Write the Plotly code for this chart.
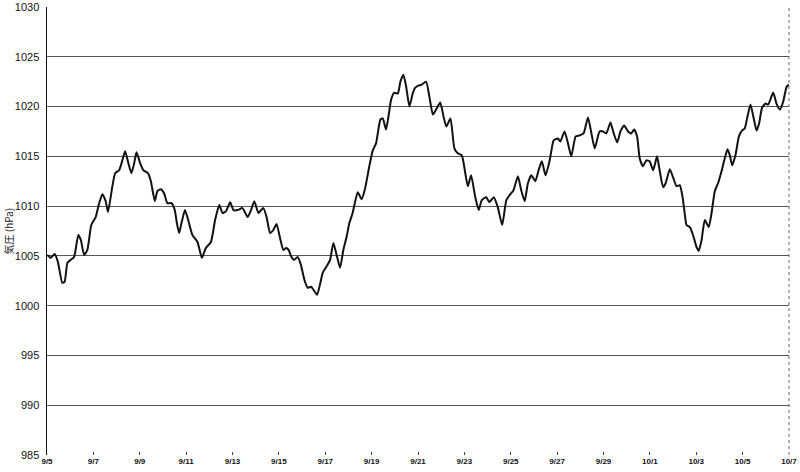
import plotly.graph_objects as go

# Days elapsed since 9/5 00:00
days = [0.01, 0.16, 0.33, 0.47, 0.66, 0.76, 0.88, 1.02, 1.17, 1.35, 1.46, 1.60, 1.74, 1.91, 2.10,
        2.25, 2.39, 2.53, 2.63, 2.82, 2.94, 3.11, 3.25, 3.37, 3.51, 3.64, 3.76, 3.86, 4.02, 4.16,
        4.36, 4.48, 4.65, 4.76, 4.91, 5.05, 5.19, 5.37, 5.51, 5.60, 5.70, 5.80, 5.95, 6.09, 6.27,
        6.49, 6.68, 6.85, 7.07, 7.25, 7.43, 7.57, 7.72, 7.90, 8.04, 8.22, 8.43, 8.65, 8.80, 8.94,
        9.12, 9.23, 9.33, 9.47, 9.62, 9.76, 9.90, 10.05, 10.19, 10.31, 10.42, 10.52, 10.66, 10.81,
        10.95, 11.10, 11.24, 11.39, 11.49, 11.65, 11.79, 11.89, 12.10, 12.21, 12.35, 12.49, 12.64,
        12.78, 12.92, 13.04, 13.18, 13.40, 13.57, 13.72, 13.90, 14.05, 14.19, 14.38, 14.48, 14.62,
        14.74, 14.84, 14.98, 15.13, 15.24, 15.37, 15.49, 15.63, 15.77, 15.88, 16.02, 16.16, 16.35,
        16.49, 16.64, 16.78, 16.96, 17.10, 17.22, 17.40, 17.57, 17.72, 17.89, 18.04, 18.15, 18.29,
        18.47, 18.62, 18.75, 18.94, 19.08, 19.27, 19.44, 19.63, 19.81, 19.95, 20.12, 20.31, 20.45,
        20.60, 20.74, 20.89, 21.06, 21.20, 21.34, 21.50, 21.68, 21.85, 22.03, 22.14, 22.32, 22.47,
        22.61, 22.80, 22.97, 23.14, 23.33, 23.48, 23.62, 23.83, 23.98, 24.12, 24.30, 24.44, 24.59,
        24.73, 24.89, 25.06, 25.20, 25.32, 25.45, 25.56, 25.70, 25.85, 25.99, 26.14, 26.31, 26.42,
        26.57, 26.68, 26.86, 27.00, 27.15, 27.29, 27.41, 27.50, 27.58, 27.72, 27.86, 28.01, 28.11,
        28.23, 28.37, 28.54, 28.66, 28.80, 28.94, 29.09, 29.23, 29.35, 29.45, 29.55, 29.69, 29.84,
        29.98, 30.09, 30.21, 30.34, 30.48, 30.60, 30.71, 30.84, 30.99, 31.10, 31.32, 31.46, 31.61,
        31.75, 31.90, 32.00]

pressure = [1005.1, 1004.8, 1005.2, 1004.4, 1002.3, 1002.4, 1004.3, 1004.6, 1004.9, 1007.1, 1006.6,
            1005.1, 1005.6, 1008.1, 1008.9, 1010.3, 1011.2, 1010.5, 1009.4, 1012.0, 1013.3, 1013.6,
            1014.6, 1015.5, 1014.3, 1013.3, 1014.3, 1015.4, 1014.3, 1013.6, 1013.3, 1012.5, 1010.5,
            1011.5, 1011.7, 1011.3, 1010.3, 1010.3, 1009.6, 1008.3, 1007.3, 1008.3, 1009.6, 1008.6,
            1007.1, 1006.4, 1004.8, 1005.8, 1006.4, 1008.6, 1010.1, 1009.3, 1009.5, 1010.4, 1009.6,
            1009.6, 1009.8, 1008.9, 1009.6, 1010.5, 1009.3, 1009.6, 1009.8, 1008.9, 1007.3, 1007.6,
            1008.2, 1006.8, 1005.6, 1005.8, 1005.6, 1005.0, 1004.6, 1004.9, 1004.1, 1002.6, 1001.8,
            1001.9, 1001.6, 1001.1, 1002.3, 1003.3, 1004.1, 1004.6, 1006.3, 1005.1, 1003.8, 1005.6,
            1006.9, 1008.3, 1009.3, 1011.4, 1010.7, 1011.8, 1014.0, 1015.6, 1016.3, 1018.7, 1018.8,
            1017.7, 1019.2, 1020.7, 1021.4, 1021.3, 1022.5, 1023.2, 1022.0, 1020.0, 1021.3, 1021.9,
            1022.1, 1022.2, 1022.5, 1021.0, 1019.2, 1019.7, 1020.4, 1019.0, 1018.0, 1018.8, 1015.8,
            1015.3, 1015.1, 1013.3, 1012.0, 1013.1, 1010.9, 1009.6, 1010.6, 1010.9, 1010.4, 1010.9,
            1009.9, 1008.1, 1010.6, 1011.1, 1011.6, 1013.0, 1011.6, 1010.5, 1012.3, 1013.1, 1012.5,
            1013.6, 1014.5, 1013.1, 1014.6, 1016.6, 1016.8, 1016.5, 1017.5, 1016.3, 1015.0, 1017.0,
            1017.1, 1017.3, 1018.9, 1017.3, 1015.8, 1017.5, 1017.5, 1017.3, 1018.4, 1017.3, 1016.4,
            1017.5, 1018.1, 1017.5, 1017.3, 1017.7, 1017.0, 1014.8, 1014.0, 1014.6, 1014.5, 1013.6,
            1015.0, 1013.6, 1011.9, 1012.3, 1013.7, 1012.9, 1012.0, 1012.1, 1010.9, 1009.3, 1008.1,
            1007.9, 1007.1, 1005.9, 1005.5, 1006.6, 1008.6, 1007.9, 1009.3, 1011.5, 1012.3, 1013.5,
            1014.8, 1015.7, 1015.1, 1014.1, 1015.1, 1017.0, 1017.6, 1017.8, 1019.0, 1020.2, 1018.8,
            1017.6, 1018.3, 1019.9, 1020.3, 1020.2, 1021.4, 1020.3, 1019.7, 1020.5, 1022.0, 1022.2]

tick_days = [0, 2, 4, 6, 8, 10, 12, 14, 16, 18, 20, 22, 24, 26, 28, 30, 32]
tick_labels = ["9/5", "9/7", "9/9", "9/11", "9/13", "9/15", "9/17", "9/19", "9/21",
               "9/23", "9/25", "9/27", "9/29", "10/1", "10/3", "10/5", "10/7"]
y_ticks = [985, 990, 995, 1000, 1005, 1010, 1015, 1020, 1025, 1030]

fig = go.Figure()
fig.add_trace(go.Scatter(x=days, y=pressure, mode="lines",
                         line=dict(color="#111111", width=2, shape="spline", smoothing=0.5),
                         showlegend=False, hoverinfo="skip"))

fig.update_layout(
    width=800, height=472,
    margin=dict(l=47, r=11, t=7, b=17),
    paper_bgcolor="white", plot_bgcolor="white",
    font=dict(family="Liberation Sans, Arial, sans-serif", color="#111111"),
    xaxis=dict(range=[0, 32], tickvals=tick_days, ticktext=tick_labels,
               automargin=False,
               showgrid=False, zeroline=False, showline=False,
               ticks="inside", ticklen=3, tickcolor="#444444",
               tickfont=dict(size=8, color="#111111", weight="bold",
                             family="Liberation Sans Narrow, Liberation Sans, sans-serif")),
    yaxis=dict(range=[985, 1030], tickvals=y_ticks, ticktext=[str(v) for v in y_ticks],
               automargin=False,
               showgrid=True, gridcolor="#555555", gridwidth=1,
               zeroline=False, showline=True, linecolor="#111111", linewidth=1.5,
               ticks="", ticklabelstandoff=4,
               tickfont=dict(size=11, color="#111111")),
    shapes=[dict(type="line", xref="paper", yref="paper", x0=1, x1=1, y0=0, y1=1,
                 line=dict(color="#666666", width=1, dash="dot"))],
    annotations=[dict(text="気圧 (hPa)", xref="paper", yref="paper", x=-0.052, y=0.5,
                      xanchor="center", yanchor="middle", textangle=-90, showarrow=False,
                      font=dict(size=10, color="#111111",
                                family="Noto Sans CJK JP, sans-serif"))],
)

fig.write_html("out.html", config={"displayModeBar": False, "staticPlot": True},
               post_script="document.body.style.margin='0';document.body.style.padding='0';"
                           "document.body.style.overflow='hidden';")
